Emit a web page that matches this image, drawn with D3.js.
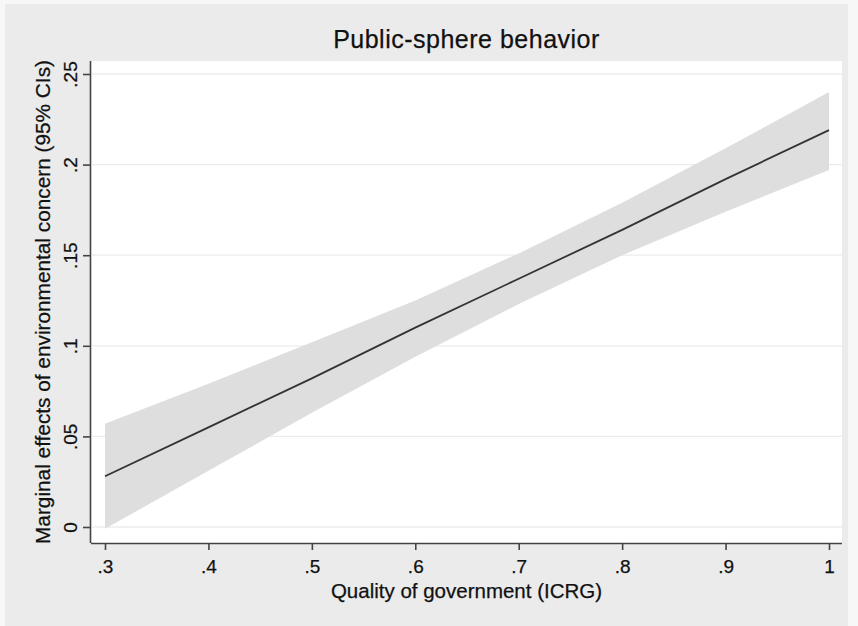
<!DOCTYPE html>
<html>
<head>
<meta charset="utf-8">
<script src="https://cdn.jsdelivr.net/npm/d3@7"></script>
<style>
  body { margin: 0; background: #f7f7f7; }
  svg { display: block; }
  text { font-family: "Liberation Sans", Arial, sans-serif; fill: #111; stroke: #111; stroke-width: 0.25; }
</style>
</head>
<body>
<div id="chart"></div>
<script>
// values (margins at each x)
const xVals = [0.3, 0.4, 0.5, 0.6, 0.7, 0.8, 0.9, 1.0];
const effect = [0.028, 0.055, 0.082, 0.110, 0.137, 0.164, 0.192, 0.219];
const upperCI = [0.057, 0.079, 0.102, 0.125, 0.151, 0.179, 0.209, 0.240];
const lowerCI = [-0.001, 0.031, 0.063, 0.094, 0.123, 0.150, 0.174, 0.197];
const xTicks = [0.3, 0.4, 0.5, 0.6, 0.7, 0.8, 0.9, 1];
const xTickLabels = [".3", ".4", ".5", ".6", ".7", ".8", ".9", "1"];
const yTicks = [0, 0.05, 0.1, 0.15, 0.2, 0.25];
const yTickLabels = ["0", ".05", ".1", ".15", ".2", ".25"];

const W = 858, H = 626;
const plot = { left: 91, right: 842, top: 61, bottom: 543 };

const svg = d3.select("#chart").append("svg")
  .attr("width", W)
  .attr("height", H);

// outer graph region
svg.append("rect")
  .attr("x", 5).attr("y", 4)
  .attr("width", 843).attr("height", 622)
  .attr("fill", "#ebebeb");

// plot region
svg.append("rect")
  .attr("x", plot.left).attr("y", plot.top)
  .attr("width", plot.right - plot.left)
  .attr("height", plot.bottom - plot.top)
  .attr("fill", "#ffffff");

const x = d3.scaleLinear().domain([0.3, 1]).range([105, 829]);
const y = d3.scaleLinear().domain([0, 0.25]).range([527, 74]);

// gridlines
svg.append("g")
  .selectAll("line")
  .data(yTicks)
  .enter().append("line")
  .attr("x1", plot.left + 1).attr("x2", plot.right)
  .attr("y1", d => y(d)).attr("y2", d => y(d))
  .attr("stroke", "#ececec")
  .attr("stroke-width", 1.3);

const pts = xVals.map((v, i) => ({ x: v, m: effect[i], lo: lowerCI[i], hi: upperCI[i] }));

// confidence band
svg.append("path")
  .datum(pts)
  .attr("fill", "#dcdcdc")
  .attr("fill-opacity", 0.95)
  .attr("d", d3.area()
    .x(d => x(d.x))
    .y0(d => y(d.lo))
    .y1(d => y(d.hi)));

// marginal effect line
svg.append("path")
  .datum(pts)
  .attr("fill", "none")
  .attr("stroke", "#333")
  .attr("stroke-width", 1.8)
  .attr("d", d3.line()
    .x(d => x(d.x))
    .y(d => y(d.m)));

// x axis
const xAxis = svg.append("g")
  .attr("transform", "translate(0," + plot.bottom + ")")
  .call(d3.axisBottom(x)
    .tickValues(xTicks)
    .tickFormat((d, i) => xTickLabels[i])
    .tickSize(7)
    .tickSizeOuter(0)
    .tickPadding(10));
xAxis.select(".domain")
  .attr("d", "M" + plot.left + ",0.5H" + plot.right)
  .attr("stroke", "#444")
  .attr("stroke-width", 1.6);
xAxis.selectAll(".tick line").attr("stroke", "#444").attr("stroke-width", 1.6);
xAxis.selectAll(".tick text")
  .attr("font-family", "Liberation Sans, Arial, sans-serif")
  .attr("font-size", 19)
  .attr("fill", "#111");

// y axis
const yAxis = svg.append("g")
  .attr("transform", "translate(" + plot.left + ",0)")
  .call(d3.axisLeft(y)
    .tickValues(yTicks)
    .tickFormat((d, i) => yTickLabels[i])
    .tickSize(8)
    .tickSizeOuter(0));
yAxis.select(".domain")
  .attr("d", "M-0.5," + plot.top + "V" + plot.bottom)
  .attr("stroke", "#444")
  .attr("stroke-width", 1.6);
yAxis.selectAll(".tick line").attr("stroke", "#444").attr("stroke-width", 1.6);
yAxis.selectAll(".tick text")
  .attr("font-family", "Liberation Sans, Arial, sans-serif")
  .attr("font-size", 19)
  .attr("fill", "#111")
  .attr("x", 0).attr("dy", 0)
  .attr("transform", "translate(-14,0) rotate(-90)")
  .attr("text-anchor", "middle");

// title
svg.append("text")
  .attr("x", (plot.left + plot.right) / 2)
  .attr("y", 48)
  .attr("text-anchor", "middle")
  .attr("font-size", 25)
  .attr("letter-spacing", 0.5)
  .text("Public-sphere behavior");

// axis titles
svg.append("text")
  .attr("x", (plot.left + plot.right) / 2)
  .attr("y", 598)
  .attr("text-anchor", "middle")
  .attr("font-size", 20.5)
  .text("Quality of government (ICRG)");

svg.append("text")
  .attr("transform", "translate(50," + (plot.top + plot.bottom) / 2 + ") rotate(-90)")
  .attr("text-anchor", "middle")
  .attr("font-size", 20.8)
  .text("Marginal effects of environmental concern (95% CIs)");
</script>
</body>
</html>
